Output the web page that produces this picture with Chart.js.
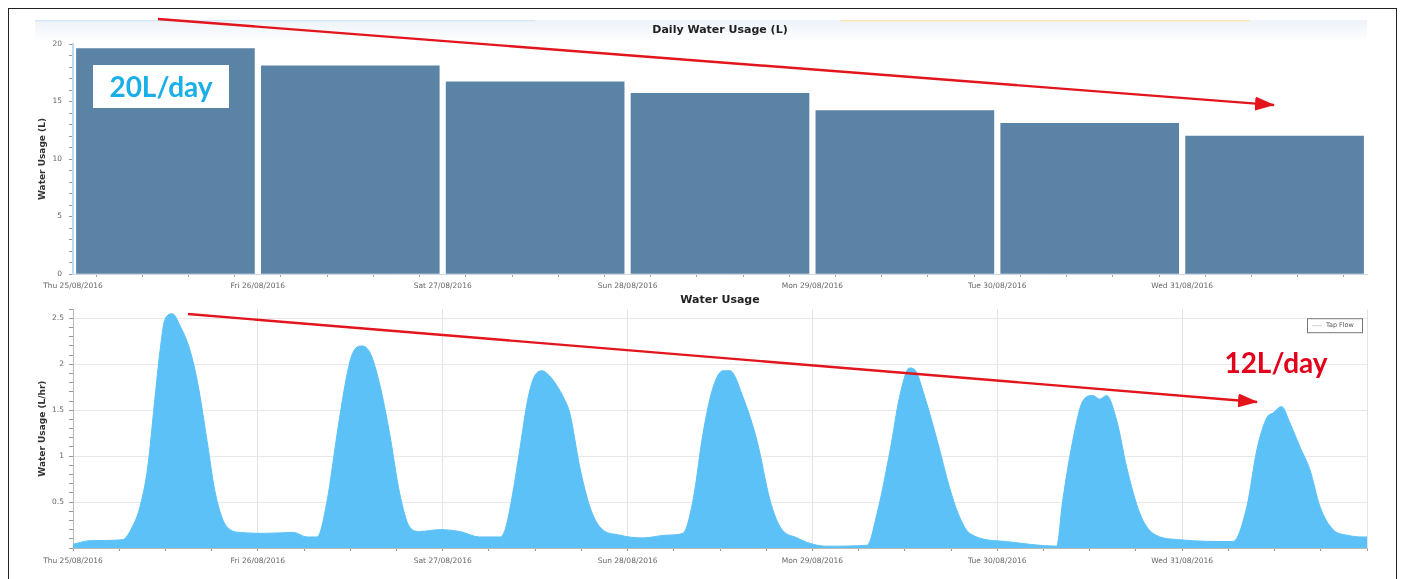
<!DOCTYPE html>
<html><head><meta charset="utf-8">
<script src="https://cdn.jsdelivr.net/npm/chart.js@4.4.1/dist/chart.umd.min.js"></script>
<style>
html,body{margin:0;padding:0;background:#fff;width:1404px;height:579px;overflow:hidden;position:relative;}
#frame{position:absolute;left:8px;top:8px;width:1389px;height:620px;border:1.5px solid #222;box-sizing:border-box;}
#c1{position:absolute;left:0;top:0;}
#c2{position:absolute;left:0;top:292px;}
#ov{position:absolute;left:0;top:0;}
</style></head><body>
<div id="frame"></div>
<canvas id="c1" width="1404" height="300"></canvas>
<canvas id="c2" width="1404" height="287"></canvas>
<svg id="ov" width="1404" height="579" xmlns="http://www.w3.org/2000/svg">
  <defs>
    <marker id="ah" markerWidth="20" markerHeight="14" refX="19" refY="7" orient="auto" markerUnits="userSpaceOnUse">
      <path d="M0,0 L20,7 L0,14 z" fill="#e3141c"/>
    </marker>
  </defs>
  <line x1="158" y1="19" x2="1274" y2="105" stroke="#e3141c" stroke-width="2.4" marker-end="url(#ah)"/>
  <line x1="188" y1="314" x2="1257" y2="402" stroke="#e3141c" stroke-width="2.4" marker-end="url(#ah)"/>
  <rect x="93" y="65" width="136" height="43" fill="#ffffff"/>
  <text x="161" y="97" text-anchor="middle" font-family="Lato" font-weight="700" font-size="28" fill="#1aafe6">20L/day</text>
  <text x="1276" y="373" text-anchor="middle" font-family="Lato" font-weight="700" font-size="28" fill="#e3001b">12L/day</text>
</svg>
<script>
// ---- data ----
const dayLabels = ['Thu 25/08/2016','Fri 26/08/2016','Sat 27/08/2016','Sun 28/08/2016','Mon 29/08/2016','Tue 30/08/2016','Wed 31/08/2016'];
const dailyUsage = [19.6, 18.1, 16.7, 15.7, 14.2, 13.1, 12.0];
const flowHours = [0,2.2,6.4,7.7,8.7,9.7,10.6,11.3,11.9,12.9,13.9,15.2,16.2,17.4,18.4,19.5,20.4,21.7,25.0,28.6,30.4,31.7,
  33.0,34.3,35.6,36.3,37.5,38.6,39.8,41.1,42.4,43.7,45.0,47.6,50.2,52.8,55.4,
  56.1,57.1,58.0,59.0,59.8,60.9,61.8,62.8,63.8,64.5,65.8,67.1,68.4,71.0,74.0,77.1,79.2,
  80.5,81.8,83.1,84.4,85.3,87.0,88.8,90.5,91.8,94.0,96.6,98.2,103.1,
  104.4,106.1,107.3,108.6,109.3,110.6,112.2,113.8,114.9,116.4,121.2,127.7,
  128.5,129.8,131.1,132.4,133.3,134.2,135.5,136.8,138.5,140.2,143.7,150.6,
  152.4,153.7,155.0,155.8,156.9,158.0,159.3,160.6,161.9,163.6,165.4,167.5,168];
const flowValues = [0.04,0.08,0.09,0.23,0.45,0.88,1.6,2.15,2.48,2.55,2.42,2.15,1.79,1.17,0.63,0.3,0.2,0.17,0.16,0.17,0.12,0.12,
  0.52,1.25,1.9,2.12,2.2,2.12,1.79,1.25,0.6,0.23,0.18,0.2,0.18,0.12,0.12,
  0.2,0.6,1.07,1.6,1.85,1.93,1.88,1.77,1.62,1.47,0.88,0.45,0.23,0.14,0.11,0.14,0.16,
  0.52,1.25,1.75,1.93,1.93,1.64,1.17,0.52,0.23,0.11,0.03,0.02,0.03,
  0.38,1.07,1.64,1.96,1.94,1.64,1.17,0.66,0.38,0.16,0.07,0.02,
  0.52,1.17,1.6,1.66,1.62,1.66,1.39,0.88,0.38,0.16,0.09,0.07,
  0.45,1.07,1.42,1.47,1.54,1.36,1.1,0.85,0.45,0.2,0.14,0.12,0.12];
const seriesName = 'Tap Flow';

const FONT = '"DejaVu Sans", sans-serif';
const tickFont = {family: FONT, size: 7.5};
const TICK_COLOR = '#666';

function range(a, b, s) { const r = []; for (let i = 0; a + i * s <= b + 1e-9; i++) r.push(Math.round((a + i * s) * 1000) / 1000); return r; }

const headerBand = {
  id: 'headerBand',
  beforeDraw(chart) {
    const ctx = chart.ctx; ctx.save();
    const g = ctx.createLinearGradient(0, 20, 0, 42);
    g.addColorStop(0, '#edf3f9'); g.addColorStop(1, '#ffffff');
    ctx.fillStyle = g; ctx.fillRect(35, 20, 1332, 22);
    ctx.fillStyle = '#d9e8f5'; ctx.fillRect(35, 20, 500, 1.5);
    ctx.fillStyle = '#fbe9b8'; ctx.fillRect(840, 20, 410, 1.5);
    ctx.restore();
  }
};

new Chart(document.getElementById('c1'), {
  type: 'bar',
  data: { datasets: [{ label: 'Daily Water Usage', data: dailyUsage.map((v, i) => ({x: i + 0.5, y: v})),
    backgroundColor: '#5b83a6', borderWidth: 0, barThickness: 178 }] },
  options: {
    responsive: false, animation: false, devicePixelRatio: 1,
    layout: { padding: { left: 0, right: 37, top: 22, bottom: 0 } },
    plugins: {
      legend: { display: false }, tooltip: { enabled: false },
      title: { display: true, fullSize: false, text: 'Daily Water Usage (L)', color: '#222', font: {family: FONT, size: 11, weight: 'bold'}, padding: {top: 2, bottom: 6.8} }
    },
    scales: {
      x: { type: 'linear', min: 0, max: 7, offset: false,
        afterBuildTicks: s => { s.ticks = range(0, 7, 0.25).map(v => ({value: v})); },
        afterFit: s => { s.height = 26; },
        ticks: { autoSkip: false, maxRotation: 0, padding: 5, font: tickFont, color: TICK_COLOR,
          callback: v => (Number.isInteger(v) && v < 7) ? dayLabels[v] : '' },
        grid: { drawOnChartArea: false, tickLength: 3, tickColor: '#9aa' },
        border: { color: '#c9d6e3' } },
      y: { min: 0, max: 20,
        afterBuildTicks: s => { s.ticks = range(0, 20, 1).map(v => ({value: v})); },
        afterFit: s => { s.width = 73; },
        ticks: { autoSkip: false, padding: 7, font: tickFont, color: TICK_COLOR,
          callback: v => (v % 5 === 0) ? String(v) : '' },
        grid: { drawOnChartArea: false, tickLength: 4, tickColor: '#999' },
        border: { color: '#b9dcf2', width: 2 },
        title: { display: true, text: 'Water Usage (L)', color: '#333', font: {family: FONT, size: 9, weight: 'bold'}, padding: {top: 37, bottom: 0} } }
    }
  },
  plugins: [headerBand]
});

// small boxed legend drawn at top-right of the plot area
const boxedLegend = {
  id: 'boxedLegend',
  afterDraw(chart) {
    const ca = chart.chartArea; const ctx = chart.ctx;
    const w = 55, h = 14; const x = ca.right - 5 - w, y = ca.top + 9;
    ctx.save();
    ctx.fillStyle = '#fff'; ctx.fillRect(x, y, w, h);
    ctx.strokeStyle = '#777'; ctx.lineWidth = 1; ctx.strokeRect(x + 0.5, y + 0.5, w, h);
    ctx.strokeStyle = '#cfcfcf'; ctx.beginPath(); ctx.moveTo(x + 5, y + 7.5); ctx.lineTo(x + 15, y + 7.5); ctx.stroke();
    ctx.fillStyle = '#555'; ctx.font = '6.5px ' + FONT; ctx.textBaseline = 'middle'; ctx.textAlign = 'left';
    ctx.fillText(chart.data.datasets[0].label, x + 19, y + 7.5);
    ctx.restore();
  }
};

new Chart(document.getElementById('c2'), {
  type: 'line',
  data: { datasets: [{ label: seriesName, data: flowHours.map((h, i) => ({x: h, y: flowValues[i]})),
    fill: 'origin', backgroundColor: '#5cc1f7', borderColor: '#5cc1f7', borderWidth: 1,
    pointRadius: 0, cubicInterpolationMode: 'monotone' }] },
  options: {
    responsive: false, animation: false, devicePixelRatio: 1,
    layout: { padding: { left: 0, right: 37, top: 0, bottom: 0 } },
    plugins: {
      tooltip: { enabled: false }, legend: { display: false },
      title: { display: true, fullSize: false, text: 'Water Usage', color: '#222', font: {family: FONT, size: 11, weight: 'bold'}, padding: {top: 2, bottom: 2} }
    },
    scales: {
      x: { type: 'linear', min: 0, max: 168, offset: false,
        afterBuildTicks: s => { s.ticks = range(0, 168, 6).map(v => ({value: v})); },
        afterFit: s => { s.height = 31; },
        ticks: { autoSkip: false, maxRotation: 0, padding: 6, font: tickFont, color: TICK_COLOR,
          callback: v => (v % 24 === 0 && v < 168) ? dayLabels[v / 24] : '' },
        grid: { color: c => (c.tick && c.tick.value % 24 === 0 && c.tick.value > 0) ? '#e4e4e4' : 'rgba(0,0,0,0)',
          tickColor: '#999', tickLength: 3 },
        border: { color: '#bbb' } },
      y: { min: 0, max: 2.6,
        afterBuildTicks: s => { s.ticks = range(0, 2.6, 0.1).map(v => ({value: v})); },
        afterFit: s => { s.width = 73; },
        ticks: { autoSkip: false, padding: 5, font: tickFont, color: TICK_COLOR,
          callback: v => { const k = Math.round(v * 10); return (k % 5 === 0 && k > 0) ? String(k / 10) : ''; } },
        grid: { color: c => { const k = Math.round(c.tick.value * 10); return (k % 5 === 0 && k > 0 && k < 26) ? '#e8e8e8' : 'rgba(0,0,0,0)'; },
          tickColor: '#999', tickLength: 4 },
        border: { color: '#bbb' },
        title: { display: true, text: 'Water Usage (L/hr)', color: '#333', font: {family: FONT, size: 9, weight: 'bold'}, padding: {top: 37, bottom: 0} } }
    }
  },
  plugins: [boxedLegend]
});
</script>
</body></html>
